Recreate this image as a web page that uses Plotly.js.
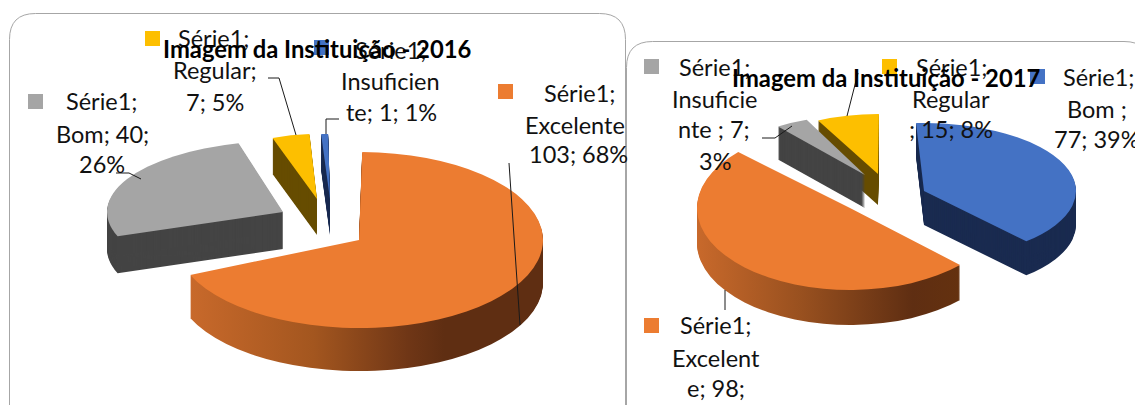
<!DOCTYPE html>
<html><head><meta charset="utf-8">
<script src="https://cdn.plot.ly/plotly-3.0.1.min.js"></script>
<style>html,body{margin:0;padding:0;background:#fff;overflow:hidden}#c{width:1135px;height:405px}</style>
</head><body><div id="c"></div>
<script>
const W = 1135, H = 405;
// Data
const categories2016 = ["Excelente", "Bom", "Regular", "Insuficiente"];
const values2016 = [103, 40, 7, 1];
const categories2017 = ["Bom", "Excelente", "Insuficiente", "Regular"];
const values2017 = [77, 98, 7, 15];
const title2016 = "Imagem da Instituição - 2016";
const title2017 = "Imagem da Instituição - 2017";

// Styles
const colors = {Excelente:"#ec7c31", Bom2016:"#a5a5a5", Regular:"#fdbf00", Insuficiente2016:"#4472c4",
                Bom2017:"#4472c4", Insuficiente2017:"#a5a5a5"};
const walls = {"#ec7c31":"#8a481c", "#a5a5a5":"#444444", "#fdbf00":"#664c00", "#4472c4":"#1a2b50"};

// Slice geometry: draw order, centre, radii, wall depth, start angle
const geo2016 = {
  Excelente:    {cx:359, cy:240, rx:184, ry:88, depth:43, rot:1, order:0},
  Bom:          {cx:283, cy:212, rx:176, ry:71, depth:37, rot:250, order:1},
  Regular:      {cx:317, cy:199, rx:130, ry:65, depth:36, rot:340, order:2},
  Insuficiente: {cx:330, cy:199, rx:170, ry:65, depth:36, rot:357, order:3}
};
const geo2017 = {
  Regular:      {cx:878, cy:174, rx:132, ry:60, depth:31, rot:333, order:0},
  Insuficiente: {cx:865, cy:175, rx:148, ry:60, depth:33, rot:324, order:1},
  Bom:          {cx:924, cy:191, rx:152, ry:68, depth:34, rot:-3, order:2},
  Excelente:    {cx:850, cy:208, rx:153, ry:82, depth:35, rot:134, order:3}
};

// Text lines [text, x, y]
const labelLines = [
  ["Série1;",213,38],["Regular;",215,70],["7; 5%",215,102],
  ["Série1;",390,50],["Insuficien",390,81],["te; 1; 1%",391,112],
  ["Série1;",101,101],["Bom; 40;",102,134],["26%",102,164],
  ["Série1;",579,93],["Excelente",575,125],["103; 68%",578,154],
  ["Série1;",714,67],["Insuficie",715,99],["nte ; 7;",714,129],["3%",715,161],
  ["Série1;",951,67],["Regular",951,99],["; 15; 8%",951,129],
  ["Série1;",1098,77],["Bom ;",1097,109],["77; 39%",1097,139],
  ["Série1;",715,325],["Excelent",716,358],["e; 98;",716,388]
];
const keys = [
  [145,31,"#fdbf00"],[314,40,"#4472c4"],[28,94,"#a5a5a5"],[498,84,"#ec7c31"],
  [644,59,"#a5a5a5"],[882,59,"#fdbf00"],[1030,69,"#4472c4"],[644,318,"#ec7c31"]
];
const leaders = [
  [[268,78],[279,78],[296,135]],
  [[339,119],[326,119],[326,134]],
  [[116,173],[129,173],[141,179]],
  [[509,163],[520,325]],
  [[762,138],[775,138],[792,126]],
  [[858,73],[847,116]],
  [[725,310],[725,290]]
];

const px = x => x / W, py = y => 1 - y / H;
const traces = [], xforms = [], gradients = [];

function addChart(cats, vals, geo, colorOf, grad) {
  const total = vals.reduce((a, b) => a + b, 0);
  const idx = cats.map((c, i) => i).sort((a, b) => geo[cats[a]].order - geo[cats[b]].order);
  idx.forEach(i => {
    const g = geo[cats[i]], col = colorOf(cats[i]);
    const push = (color, off, isGrad) => {
      traces.push({
        type:"pie", values:[vals[i], total - vals[i]], labels:[cats[i], "resto"],
        sort:false, direction:"clockwise", rotation:g.rot,
        marker:{colors:[color, "rgba(0,0,0,0)"], line:{width:0}},
        textinfo:"none", hoverinfo:"skip", showlegend:false,
        domain:{x:[(g.cx - g.rx) / W, (g.cx + g.rx) / W], y:[0.5 - g.rx / H, 0.5 + g.rx / H]}
      });
      xforms.push({k:g.ry / g.rx, y:g.cy + off});
      gradients.push(isGrad ? grad : null);
    };
    for (let d = g.depth; d >= 1; d--) push(walls[col], d, col === colors.Excelente);
    push(col, 0, false);
  });
}
addChart(categories2016, values2016, geo2016,
  c => c === "Bom" ? colors.Bom2016 : c === "Insuficiente" ? colors.Insuficiente2016 : colors[c], "rim2016");
addChart(categories2017, values2017, geo2017,
  c => c === "Bom" ? colors.Bom2017 : c === "Insuficiente" ? colors.Insuficiente2017 : colors[c], "rim2017");

const font = "Lato, Carlito, sans-serif";
const annotations = labelLines.map(l => ({
  text:l[0], x:px(l[1]), y:py(l[2]), xref:"paper", yref:"paper", showarrow:false,
  xanchor:"center", yanchor:"middle", font:{family:font, size:23.5, color:"#111"}
}));
[[title2016,317,49],[title2017,886,78]].forEach(t => annotations.push({
  text:"<b>" + t[0] + "</b>", x:px(t[1]), y:py(t[2]), xref:"paper", yref:"paper", showarrow:false,
  xanchor:"center", yanchor:"middle", font:{family:font, size:23.8, color:"#000"}
}));

const shapes = [];
const frame = (x0, y0, x1, y1, r) =>
  `M${x0},${y1} L${x0},${y0 + r} Q${x0},${y0} ${x0 + r},${y0} L${x1 - r},${y0} Q${x1},${y0} ${x1},${y0 + r} L${x1},${y1}`;
[frame(9.5, 13.5, 625.5, 420, 26), frame(626.5, 41.5, 1150, 420, 26)].forEach(p =>
  shapes.push({type:"path", xref:"x", yref:"y", layer:"below", path:p, line:{color:"#a6a6a6", width:1}}));
keys.forEach(k => shapes.push({type:"rect", xref:"paper", yref:"paper", layer:"above",
  x0:px(k[0]), x1:px(k[0] + 15), y0:py(k[1]), y1:py(k[1] + 15), fillcolor:k[2], line:{width:0}}));
leaders.forEach(L => L.slice(1).forEach((p, i) => shapes.push({type:"line", xref:"paper", yref:"paper", layer:"above",
  x0:px(L[i][0]), y0:py(L[i][1]), x1:px(p[0]), y1:py(p[1]), line:{color:"#1a1a1a", width:1}})));

const layout = {
  width:W, height:H, margin:{l:0, r:0, t:0, b:0}, paper_bgcolor:"#fff", plot_bgcolor:"rgba(0,0,0,0)",
  showlegend:false, annotations, shapes,
  xaxis:{range:[0, W], visible:false, fixedrange:true},
  yaxis:{range:[H, 0], visible:false, fixedrange:true}
};

// An empty cartesian trace keeps the pixel axes alive for the frame outlines.
const all = [{type:"scatter", x:[], y:[], hoverinfo:"skip", showlegend:false}].concat(traces);

Plotly.newPlot("c", all, layout, {staticPlot:true, displayModeBar:false}).then(() => {
  const svg = document.querySelector("#c .main-svg");
  const NS = "http://www.w3.org/2000/svg";
  const defs = svg.querySelector("defs") || svg.insertBefore(document.createElementNS(NS, "defs"), svg.firstChild);
  const mkGrad = (id, stops) => {
    const g = document.createElementNS(NS, "linearGradient");
    g.setAttribute("id", id); g.setAttribute("x1", "0"); g.setAttribute("x2", "1"); g.setAttribute("y1", "0"); g.setAttribute("y2", "0");
    stops.forEach(s => { const e = document.createElementNS(NS, "stop");
      e.setAttribute("offset", s[0]); e.setAttribute("stop-color", s[1]); g.appendChild(e); });
    defs.appendChild(g);
  };
  mkGrad("rim2016", [[0, "#c8692b"], [0.35, "#a3561f"], [0.62, "#6f3616"], [0.72, "#5f2e12"], [1, "#5f2e12"]]);
  mkGrad("rim2017", [[0, "#c8692b"], [0.4, "#98501f"], [0.82, "#5f2e12"], [1, "#64310f"]]);
  document.querySelectorAll("#c .pielayer .trace").forEach((t, i) => {
    const f = xforms[i];
    if (!f) return;
    const e = f.y - f.k * H / 2;
    t.setAttribute("transform", `matrix(1 0 0 ${f.k} 0 ${e})`);
    if (gradients[i]) {
      const p = t.querySelector("path.surface");
      if (p) p.style.fill = `url(#${gradients[i]})`;
    }
  });
});
</script></body></html>
